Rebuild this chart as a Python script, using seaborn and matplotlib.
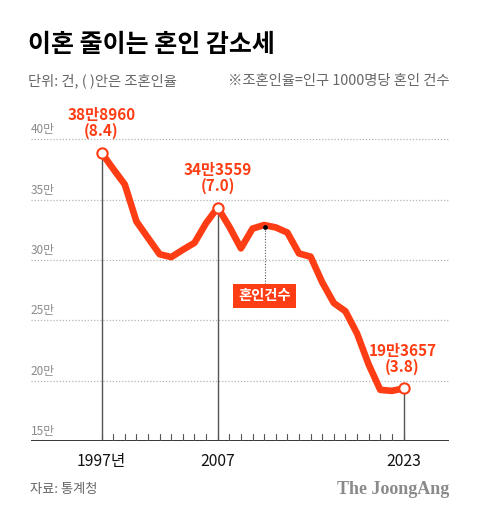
import numpy as np
import pandas as pd
import matplotlib
matplotlib.use('Agg')
import matplotlib.pyplot as plt
import matplotlib.transforms as mtransforms
import seaborn as sns

# data: number of marriages (in 만 = 10,000)
years = list(range(1997, 2024))
marriages = [388960, 375616, 362673, 332090, 318407, 304877, 302503, 308598,
             314304, 330634, 343559, 327715, 309759, 326104, 329087, 327073,
             322807, 305507, 302828, 281635, 264455, 257622, 239159, 213502,
             192507, 191690, 193657]
highlight_years = [1997, 2007, 2023]
highlight_labels = ['38만8960\n(8.4)', '34만3559\n(7.0)', '19만3657\n(3.8)']
ytick_vals = [15, 20, 25, 30, 35, 40]
ytick_labels = ['15만', '20만', '25만', '30만', '35만', '40만']
xtick_labels = ['1997년', '2007', '2023']

df = pd.DataFrame({'year': years, 'value': np.array(marriages) / 10000})

RED = '#FF3D14'
GRAY = '#8a8a8a'

sns.set_style('white')
plt.rcParams['font.family'] = ['Noto Sans CJK KR', 'DejaVu Sans']

fig = plt.figure(figsize=(4.8, 5.16), dpi=100)
ax = fig.add_axes([0.064, 0.145, 0.871, 0.655])

sns.lineplot(data=df, x='year', y='value', ax=ax, color=RED, lw=4.8,
             solid_joinstyle='round', solid_capstyle='round', zorder=4)

ax.set_xlim(1990.9, 2026.9)
ax.set_ylim(15, 43)

# grid lines
for v in ytick_vals[1:]:
    ax.axhline(v, color='#b5b5b5', lw=0.9, ls=(0, (1, 1.5)), zorder=1)
ax.axhline(15, color='black', lw=1.1, zorder=5)
for s in ax.spines.values():
    s.set_visible(False)
ax.set_xticks([])
ax.set_yticks([])
ax.set_xlabel('')
ax.set_ylabel('')

trans = mtransforms.blended_transform_factory(ax.transAxes, ax.transData)
for v, lab in zip(ytick_vals, ytick_labels):
    ax.text(0.0, v + 0.25, lab, transform=trans, ha='left', va='bottom',
            fontsize=8.5, color=GRAY)

# minor year ticks
for y in years:
    ax.plot([y, y], [15, 15.6], color='#555555', lw=0.8, zorder=5)

# highlighted years
vals = dict(zip(df['year'], df['value']))
for y, lab, xl in zip(highlight_years, highlight_labels, xtick_labels):
    ax.plot([y, y], [15, vals[y]], color='#555555', lw=1.0, zorder=2)
    ax.scatter([y], [vals[y]], s=55, facecolor='white', edgecolor=RED,
               lw=1.5, zorder=6)
    ax.text(y, 14.0, xl, ha='center', va='top', fontsize=11.3, color='#111111')
    dx = 0.0 if y != 2023 else -0.1
    ax.text(y + dx, vals[y] + 1.1, lab, ha='center', va='bottom', fontsize=11,
            fontweight='bold', color=RED, linespacing=1.0, zorder=7)

# series label
ax.scatter([2011.05], [32.75], s=6, color='black', zorder=7)
ax.plot([2011.05, 2011.05], [28.0, 32.6], color='#555555', lw=0.8,
        ls=(0, (1, 1.5)), zorder=2)
ax.text(2011.05, 27.05, '혼인건수', ha='center', va='center', fontsize=10.3,
        fontweight='bold', color='white', zorder=7,
        bbox=dict(boxstyle='square,pad=0.35', fc=RED, ec='none'))

# titles
fig.text(0.058, 0.913, '이혼 줄이는 혼인 감소세', fontsize=18, fontweight='heavy',
         color='black', ha='left', va='center')
fig.text(0.058, 0.843, '단위: 건, ( )안은 조혼인율', fontsize=10.3, color='#666666',
         ha='left', va='center')
fig.text(0.936, 0.843, '※조혼인율=인구 1000명당 혼인 건수', fontsize=10.3,
         color='#666666', ha='right', va='center')
fig.text(0.062, 0.052, '자료: 통계청', fontsize=9.5, color='#666666',
         ha='left', va='center')
fig.text(0.936, 0.052, 'The JoongAng', fontsize=13, color='#8a8a8a',
         fontweight='bold', family='Liberation Serif', ha='right', va='center')

plt.savefig('out.png', dpi=100)
plt.close()
